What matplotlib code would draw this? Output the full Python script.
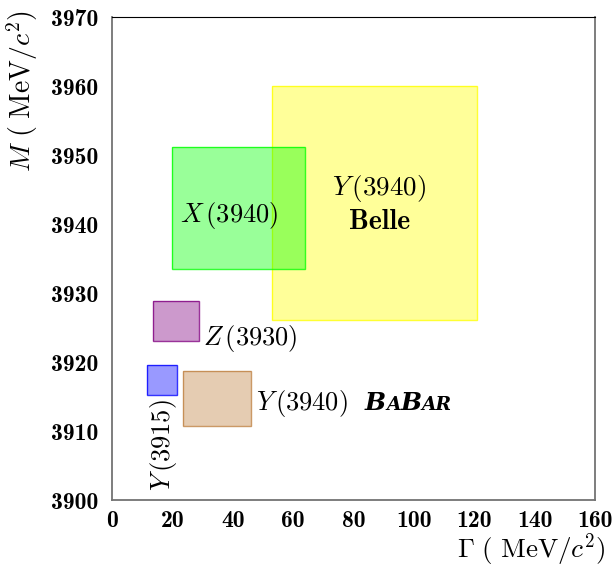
import matplotlib
matplotlib.use('Agg')
import matplotlib.pyplot as plt
from matplotlib.patches import Rectangle
from matplotlib.offsetbox import TextArea, HPacker, AnnotationBbox

plt.rcParams['mathtext.fontset'] = 'cm'
plt.rcParams['axes.unicode_minus'] = False

# Width (Gamma) and mass ranges of each state, MeV/c^2
names = ['Y(3940) Belle', 'X(3940)', 'Z(3930)', 'Y(3915)', 'Y(3940) BaBar']
gamma_lo = [52.9, 20.0, 13.5, 11.5, 23.4]
gamma_hi = [121.0, 63.9, 28.9, 21.4, 46.0]
mass_lo = [3926.1, 3933.5, 3923.0, 3915.2, 3910.7]
mass_hi = [3960.0, 3951.1, 3928.8, 3919.6, 3918.7]
colors = ['yellow', '#00ff00', 'purple', 'blue', '#bf8040']

xticks = [0, 20, 40, 60, 80, 100, 120, 140, 160]
yticks = [3900, 3910, 3920, 3930, 3940, 3950, 3960, 3970]

fig = plt.figure(figsize=(6.16, 5.68), dpi=100)
ax = fig.add_axes([112/616, 1 - 500/568, 483/616, 483/568])

for i in range(len(names)):
    ax.add_patch(Rectangle((gamma_lo[i], mass_lo[i]), gamma_hi[i] - gamma_lo[i],
                           mass_hi[i] - mass_lo[i], facecolor=colors[i], alpha=0.4,
                           edgecolor='none'))
    ax.add_patch(Rectangle((gamma_lo[i], mass_lo[i]), gamma_hi[i] - gamma_lo[i],
                           mass_hi[i] - mass_lo[i], facecolor='none',
                           edgecolor=colors[i], lw=1.0, alpha=0.8))

ax.set_xlim(0, 160)
ax.set_ylim(3900, 3970)
ax.set_xticks(xticks)
ax.set_yticks(yticks)
ax.set_xticklabels([str(v) for v in xticks], fontsize=17, fontfamily='cmb10')
ax.set_yticklabels([str(v) for v in yticks], fontsize=17, fontfamily='cmb10')
ax.tick_params(axis='y', length=0, pad=10)
ax.tick_params(axis='x', length=0, pad=7)
for s in ['left', 'right', 'bottom']:
    ax.spines[s].set_color('0.45')
    ax.spines[s].set_linewidth(1.3)
ax.spines['top'].set_color('black')

# labels
ax.text(38.8, 3941.3, r'$X\,(3940)$', fontsize=19, ha='center', va='center')
ax.text(88.5, 3945.2, r'$Y\,(3940)$', fontsize=19.5, ha='center', va='center')
ax.text(88.5, 3940.3, 'Belle', fontsize=20, fontfamily='cmb10', ha='center', va='center')
ax.text(30.2, 3923.4, r'$Z\,(3930)$', fontsize=19, ha='left', va='center')
ax.text(16.9, 3908.0, r'$Y\,(3915)$', fontsize=19, ha='center', va='center', rotation=90)
ax.text(47.6, 3914.0, r'$Y\,(3940)$', fontsize=19, ha='left', va='center')

# BaBar logo in bold italic small caps
parts = [('B', 18), ('A', 13.5), ('B', 18), ('AR', 13.5)]
boxes = [TextArea(t, textprops=dict(fontsize=fs, fontfamily='DejaVu Serif',
                                    fontweight='bold', fontstyle='italic'))
         for t, fs in parts]
pack = HPacker(children=boxes, align='baseline', pad=0, sep=0)
ab = AnnotationBbox(pack, (83.8, 3914.0), frameon=False, box_alignment=(0, 0.5))
ax.add_artist(ab)

ax.text(-0.186, 1.015, r'$M\ (\ \mathrm{MeV}/c^2)$', fontsize=20, rotation=90,
        ha='center', va='top', transform=ax.transAxes)
ax.text(1.022, -0.103, r'$\Gamma\ (\ \mathrm{MeV}/c^2)$', fontsize=19.5,
        ha='right', va='center', transform=ax.transAxes)

plt.savefig('out.png', dpi=100)
